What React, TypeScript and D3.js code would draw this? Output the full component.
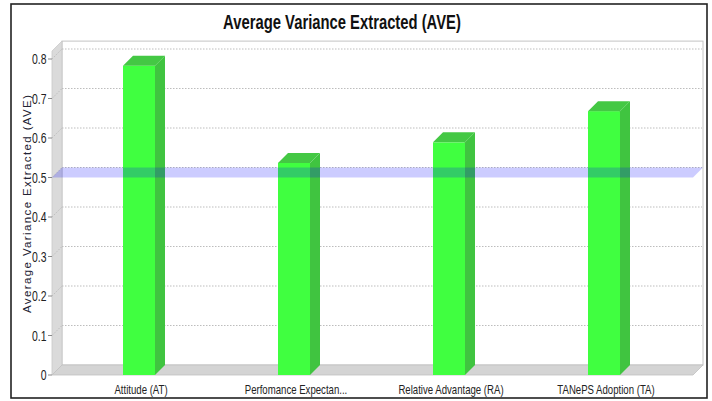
import React from "react";
import * as d3 from "d3";

const categories = ["Attitude (AT)", "Perfomance Expectan...", "Relative Advantage (RA)", "TANePS Adoption (TA)"];
const aveValues = [0.783, 0.537, 0.589, 0.668];
const yTicks = [0, 0.1, 0.2, 0.3, 0.4, 0.5, 0.6, 0.7, 0.8];
const threshold = 0.5;
const chartTitle = "Average Variance Extracted (AVE)";
const yAxisTitle = "Average Variance Extracted (AVE)";

const W = 712;
const H = 401;
const DX = 10;
const DY = 10;
const FONT = "'Liberation Sans', Arial, sans-serif";

function NarrowText(props: {
  x: number;
  y: number;
  sx?: number;
  anchor?: string;
  size: number;
  weight?: string;
  fill?: string;
  children: React.ReactNode;
}) {
  const { x, y, sx = 0.8, anchor = "middle", size, weight = "normal", fill = "#222", children } = props;
  return (
    <g transform={`translate(${x},${y}) scale(${sx},1)`}>
      <text x={0} y={0} textAnchor={anchor} fontFamily={FONT} fontSize={size} fontWeight={weight} fill={fill}>
        {children}
      </text>
    </g>
  );
}

export default function App() {
  const y = d3.scaleLinear().domain([0, 0.8]).range([375, 59]);
  const x = d3.scaleBand<string>().domain(categories).range([61.5, 681.5]);
  const barW = 32;
  const left = 52;
  const right = 693;
  const y0 = y(0);
  const yTop = y(0.82);

  const pts = (p: number[][]) => p.map((q) => q.join(",")).join(" ");

  return (
    <svg width={W} height={H} style={{ position: "absolute", left: 0, top: 0, background: "#fff" }}>
      <rect x={11} y={4} width={696} height={394} fill="#fff" stroke="#222" strokeWidth={1.6} />
      <NarrowText x={342} y={29} sx={0.76} size={19.5} weight="bold" fill="#111">
        {chartTitle}
      </NarrowText>
      {/* back wall */}
      <rect x={left + DX} y={yTop - DY} width={right - left} height={y0 - yTop} fill="#fff" stroke="#c4c4c4" strokeWidth={1} />
      {/* left wall */}
      <polygon
        points={pts([[left, y0], [left, yTop], [left + DX, yTop - DY], [left + DX, y0 - DY]])}
        fill="#dadada"
        stroke="#c8c8c8"
        strokeWidth={0.8}
      />
      {/* gridlines */}
      {yTicks.filter((t) => t > 0).map((t) => (
        <g key={t}>
          <line x1={left + DX} x2={right + DX - 1} y1={y(t) - DY} y2={y(t) - DY} stroke="#bdbdbd" strokeDasharray="1.5,1.5" />
          <line x1={left} x2={left + DX} y1={y(t)} y2={y(t) - DY} stroke="#bdbdbd" strokeDasharray="1.5,1.5" />
        </g>
      ))}
      {/* floor */}
      <polygon
        points={pts([[left, y0], [right, y0], [right + DX, y0 - DY], [left + DX, y0 - DY]])}
        fill="#d4d4d4"
        stroke="#c0c0c0"
        strokeWidth={0.8}
      />
      {/* bars */}
      {categories.map((c, i) => {
        const cx = (x(c) as number) + x.bandwidth() / 2;
        const x0 = cx - barW / 2;
        const yv = y(aveValues[i]);
        return (
          <g key={c}>
            <rect x={x0} y={yv} width={barW} height={y0 - yv} fill="#40ff40" />
            <polygon
              points={pts([[x0 + barW, yv], [x0 + barW + DX, yv - DY], [x0 + barW + DX, y0 - DY], [x0 + barW, y0]])}
              fill="#40c440"
            />
            <polygon
              points={pts([[x0, yv], [x0 + DX, yv - DY], [x0 + barW + DX, yv - DY], [x0 + barW, yv]])}
              fill="#44c844"
            />
          </g>
        );
      })}
      {/* threshold plane */}
      <polygon
        points={pts([[left, y(threshold)], [right, y(threshold)], [right + DX, y(threshold) - DY], [left + DX, y(threshold) - DY]])}
        fill="rgba(0,0,255,0.2)"
      />
      {/* y ticks */}
      {yTicks.map((t) => (
        <g key={"t" + t}>
          <line x1={48} x2={left} y1={y(t)} y2={y(t)} stroke="#888" />
          <NarrowText x={46.5} y={y(t) + 5} sx={0.72} anchor="end" size={14.5}>
            {d3.format("~g")(t)}
          </NarrowText>
        </g>
      ))}
      <text
        transform={`translate(31,204) rotate(-90)`}
        textAnchor="middle"
        fontFamily={FONT}
        fontSize={11.5}
        textLength={218}
        lengthAdjust="spacing"
        fill="#223"
      >
        {yAxisTitle}
      </text>
      {/* category labels */}
      {categories.map((c) => {
        const cx = (x(c) as number) + x.bandwidth() / 2;
        return (
          <NarrowText key={"l" + c} x={cx + 2} y={393.5} sx={0.74} size={13}>
            {c}
          </NarrowText>
        );
      })}
    </svg>
  );
}
